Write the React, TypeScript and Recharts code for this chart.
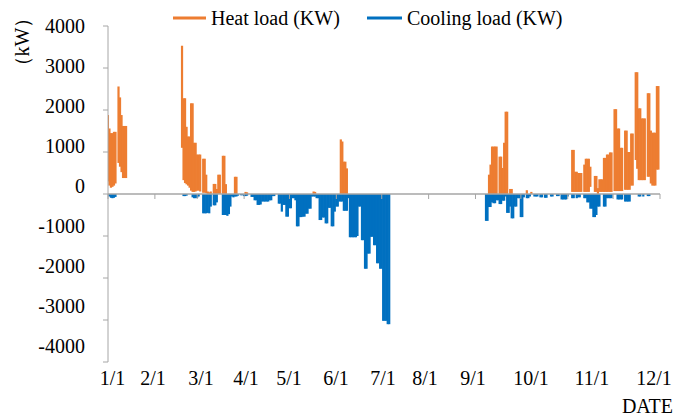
import React from "react";
import { ComposedChart, Bar, XAxis, YAxis, ReferenceLine } from "recharts";

// ---- data (day of year, 0 = 1/1) ----
// heat load: [day, low, high] (kW)
const heatWinterEarly: [number, number, number][] = [
  [0, 300, 1880], [1, 200, 1560], [2, 150, 1450], [3, 170, 1450], [4, 200, 1480], [5, 250, 1480],
  [7, 740, 2560], [8, 650, 2300], [9, 520, 1880], [10, 380, 1620], [11, 380, 1620], [12, 380, 1620],
];
const heatSpring: [number, number, number][] = [
  [49, 1100, 3530], [50, 330, 2280], [51, 260, 2280], [52, 230, 1600], [53, 200, 1370], [54, 150, 1370],
  [55, 80, 2160], [56, 50, 2160], [57, 50, 1220], [58, 60, 1220], [59, 80, 940], [60, 80, 940], [61, 60, 940],
  [63, 30, 840], [64, 30, 840], [65, 20, 460], [66, 0, 60], [67, 0, 40], [68, 0, 60],
  [70, 0, 240], [71, 0, 240], [72, 0, 120], [73, 0, 460], [74, 0, 460],
  [76, 0, 910], [77, 0, 910], [78, 0, 235], [84, 0, 410], [85, 0, 410], [91, 0, 50], [92, 0, 40],
  [136, 0, 60], [137, 0, 50],
  [154, 0, 1300], [155, 0, 1250], [156, 0, 770], [157, 0, 770], [158, 0, 610],
];
const heatAutumn: [number, number, number][] = [
  [252, 0, 460], [253, 0, 700], [254, 0, 1130], [255, 0, 1130], [256, 0, 1130], [257, 0, 1130],
  [259, 0, 890], [260, 0, 890], [261, 0, 620], [262, 0, 1220], [263, 0, 1960], [264, 0, 1960],
  [266, 0, 120], [267, 0, 120], [277, 0, 90], [280, 0, 50],
];
const heatWinterLate: [number, number, number][] = [
  [307, 50, 1050], [308, 50, 1050], [309, 50, 530], [310, 50, 530], [311, 50, 500], [312, 50, 500], [313, 50, 500],
  [315, 50, 700], [316, 50, 840], [317, 50, 840], [318, 50, 840], [319, 170, 650],
  [322, 50, 430], [323, 50, 430], [324, 0, 140], [325, 50, 350], [326, 50, 350], [327, 50, 350],
  [328, 50, 860], [329, 50, 860], [330, 50, 940], [331, 50, 940], [332, 50, 990], [333, 50, 990],
  [335, 70, 2020], [336, 70, 2020], [337, 70, 1560], [338, 70, 1560], [339, 70, 1100], [340, 70, 1100],
  [342, 100, 1510], [343, 100, 1510], [344, 100, 1000], [345, 100, 1000], [346, 200, 1440], [347, 200, 1440],
  [349, 810, 2900], [350, 600, 2900], [351, 330, 2040], [352, 330, 2040], [353, 330, 1800], [354, 330, 1800], [355, 330, 1800],
  [357, 410, 2400], [358, 410, 2400], [359, 250, 1510], [360, 200, 1460], [361, 200, 1460], [362, 200, 1460],
  [363, 580, 2570], [364, 580, 2570],
];

// cooling load: [day, value] (kW, negative)
const coolWinterEarly: [number, number][] = [[1, -60], [2, -90], [3, -100], [4, -90], [5, -70]];
const coolSpring: [number, number][] = [
  [50, -50], [51, -50], [52, -40], [56, -80], [57, -100], [58, -100], [59, -90], [60, -60],
  [63, -460], [64, -460], [65, -460], [66, -450], [67, -460], [68, -300], [70, -270], [71, -270], [72, -200],
  [76, -500], [77, -500], [78, -500], [79, -520], [80, -480], [81, -300], [82, -60], [83, -80], [84, -60], [85, -60], [86, -40],
  [88, -30], [89, -30], [90, -50], [91, -50], [92, -40], [95, -70], [96, -70], [97, -150], [98, -150],
  [99, -260], [100, -260], [101, -250], [102, -180], [103, -180], [104, -180], [105, -180], [106, -180], [107, -150], [108, -150],
  [109, -50], [110, -50], [113, -230], [114, -230], [115, -420], [116, -260], [117, -260], [118, -540], [119, -540],
  [120, -340], [121, -340], [122, -100], [123, -100], [124, -150], [125, -770], [126, -770], [127, -550], [128, -550],
  [129, -540], [130, -540], [131, -470], [132, -470], [133, -350], [134, -350], [135, -60], [136, -60], [137, -60],
  [138, -100], [139, -100], [140, -620], [141, -620], [142, -560], [143, -560], [144, -700], [145, -700], [146, -330], [147, -330],
  [148, -770], [149, -770], [150, -420], [151, -300], [152, -300], [153, -180], [154, -180], [155, -180],
  [156, -400], [157, -400], [158, -400], [159, -100],
];
const coolSummer: [number, number][] = [
  [160, -1030], [161, -1030], [162, -1030], [163, -1030], [164, -1030], [165, -1000], [166, -300], [167, -300],
  [168, -1100], [169, -1100], [170, -1780], [171, -1780], [172, -1420], [173, -1420], [174, -1020], [175, -1020],
  [176, -1220], [177, -1220], [178, -1650], [179, -1650], [180, -1780], [181, -1780],
  [182, -3020], [183, -3020], [184, -3020], [185, -3100], [186, -3100],
];
const coolAutumn: [number, number][] = [
  [250, -640], [251, -640], [252, -310], [253, -310], [254, -200], [255, -220], [256, -220], [257, -150], [258, -150],
  [259, -240], [260, -240], [261, -160], [262, -160], [263, -60], [264, -450], [265, -450], [266, -300],
  [267, -580], [268, -580], [269, -300], [270, -300], [271, -100], [272, -100], [273, -550], [274, -550], [275, -80],
  [277, -100], [278, -100], [279, -60], [282, -60], [283, -60], [284, -60], [286, -80], [287, -80], [289, -90], [290, -90],
  [293, -60], [294, -60], [297, -50], [298, -50], [300, -130], [301, -130], [302, -130], [303, -130], [304, -60],
];
const coolWinterLate: [number, number][] = [
  [307, -100], [308, -100], [310, -100], [311, -80], [312, -80], [315, -100], [316, -100], [317, -200], [318, -200],
  [319, -350], [320, -350], [321, -550], [322, -550], [323, -500], [324, -300], [325, -300], [328, -300], [329, -300],
  [330, -100], [331, -100], [332, -100], [333, -100], [337, -130], [338, -130], [339, -130], [340, -130],
  [342, -180], [343, -180], [344, -180], [345, -180], [351, -60], [352, -60], [354, -60], [357, -50], [358, -50],
];

const monthStartDay = [0, 31, 59, 90, 120, 151, 181, 212, 243, 273, 304, 334, 365];
const dateLabels = ["1/1", "2/1", "3/1", "4/1", "5/1", "6/1", "7/1", "8/1", "9/1", "10/1", "11/1", "12/1"];
const dateLabelDay = [3, 29.8, 61.5, 91.3, 119.7, 150.8, 181.9, 209.6, 241.4, 279.7, 320, 361];
const yTicks = [-4000, -3000, -2000, -1000, 0, 1000, 2000, 3000, 4000];

// ---- build table ----
type Row = { day: number; heat: [number, number] | null; cool: number | null };
const rows: Row[] = Array.from({ length: 365 }, (_, d) => ({ day: d, heat: null, cool: null }));
[...heatWinterEarly, ...heatSpring, ...heatAutumn, ...heatWinterLate].forEach(([d, lo, hi]) => {
  rows[d].heat = [lo, hi];
});
[...coolWinterEarly, ...coolSpring, ...coolSummer, ...coolAutumn, ...coolWinterLate].forEach(([d, v]) => {
  rows[d].cool = v;
});

// ---- styles ----
const W = 676;
const H = 418;
const TOP = 26;
const BOTTOM_AXES = 56;
const PLOT_H = H - TOP - BOTTOM_AXES;
const ZERO_Y = TOP + PLOT_H / 2;
const ORANGE = "#ED7D31";
const BLUE = "#0070C0";
const GRAY = "#A6A6A6";
const SERIF = "'Liberation Serif', 'Times New Roman', serif";
const COL_W = 2.2;

// one day's column, centred on the bar slot recharts computes
const Column = (p: any) => {
  const { x, y, width, height, fill } = p;
  if (x == null || y == null || !height || !isFinite(height)) return null;
  const top = Math.min(y, y + height);
  const h = Math.abs(height);
  const cx = x + width / 2;
  return <rect x={cx - COL_W / 2} y={top} width={COL_W} height={h} fill={fill} />;
};

const MonthTick = (props: any) => {
  const { x } = props;
  return <line x1={x} x2={x} y1={ZERO_Y} y2={ZERO_Y + 5} stroke={GRAY} strokeWidth={1} />;
};

const DateTick = (props: any) => {
  const { x, payload } = props;
  const i = dateLabelDay.indexOf(payload.value);
  return (
    <text x={x} y={385} textAnchor="middle" fontSize={20} fontFamily={SERIF} fill="#000">
      {dateLabels[i]}
    </text>
  );
};

const ValueTick = (props: any) => {
  const { y, payload } = props;
  const ly = y - (y - TOP) * 0.0476;
  return (
    <text x={85} y={ly} dy="0.35em" textAnchor="end" fontSize={20} fontFamily={SERIF} fill="#000">
      {payload.value}
    </text>
  );
};

export default function App() {
  return (
    <div style={{ position: "absolute", left: 0, top: 0, width: W, height: H, background: "#fff" }}>
      <ComposedChart width={W} height={H} data={rows} margin={{ top: TOP, right: 16, bottom: 0, left: 0 }}>
        <XAxis
          xAxisId="heat"
          dataKey="day"
          type="number"
          domain={[0, 365]}
          ticks={monthStartDay}
          interval={0}
          height={1}
          axisLine={false}
          tickLine={false}
          tick={<MonthTick />}
          allowDataOverflow
        />
        <XAxis
          xAxisId="lab"
          dataKey="day"
          type="number"
          domain={[0, 365]}
          ticks={dateLabelDay}
          interval={0}
          height={BOTTOM_AXES - 1}
          axisLine={false}
          tickLine={false}
          tick={<DateTick />}
          allowDataOverflow
        />
        <YAxis
          yAxisId="v"
          type="number"
          domain={[-4000, 4000]}
          ticks={yTicks}
          interval={0}
          width={108}
          axisLine={{ stroke: GRAY }}
          tickLine={{ stroke: GRAY }}
          tickSize={5}
          tick={<ValueTick />}
          allowDataOverflow
        />
        <Bar xAxisId="heat" yAxisId="v" dataKey="heat" fill={ORANGE} barSize={2} shape={<Column />} isAnimationActive={false} />
        <Bar xAxisId="lab" yAxisId="v" dataKey="cool" fill={BLUE} barSize={2} shape={<Column />} isAnimationActive={false} />
        <ReferenceLine xAxisId="heat" yAxisId="v" y={0} stroke={GRAY} strokeWidth={1.5} />
      </ComposedChart>
      <svg width={W} height={H} style={{ position: "absolute", left: 0, top: 0, pointerEvents: "none" }}>
        <line x1={173} x2={206} y1={18} y2={18} stroke={ORANGE} strokeWidth={3} />
        <text x={211} y={25} fontSize={20} fontFamily={SERIF} fill="#000">Heat load (KW)</text>
        <line x1={367} x2={402} y1={18} y2={18} stroke={BLUE} strokeWidth={3} />
        <text x={407} y={25} fontSize={20} fontFamily={SERIF} fill="#000">Cooling load (KW)</text>
        <text
          transform="translate(22,42) rotate(-90)"
          textAnchor="middle"
          dy="0.35em"
          fontSize={20}
          fontFamily={SERIF}
          fill="#000"
        >
          （kW）
        </text>
        <text x={673} y={413} textAnchor="end" fontSize={20} fontFamily={SERIF} fill="#000">DATE</text>
      </svg>
    </div>
  );
}
